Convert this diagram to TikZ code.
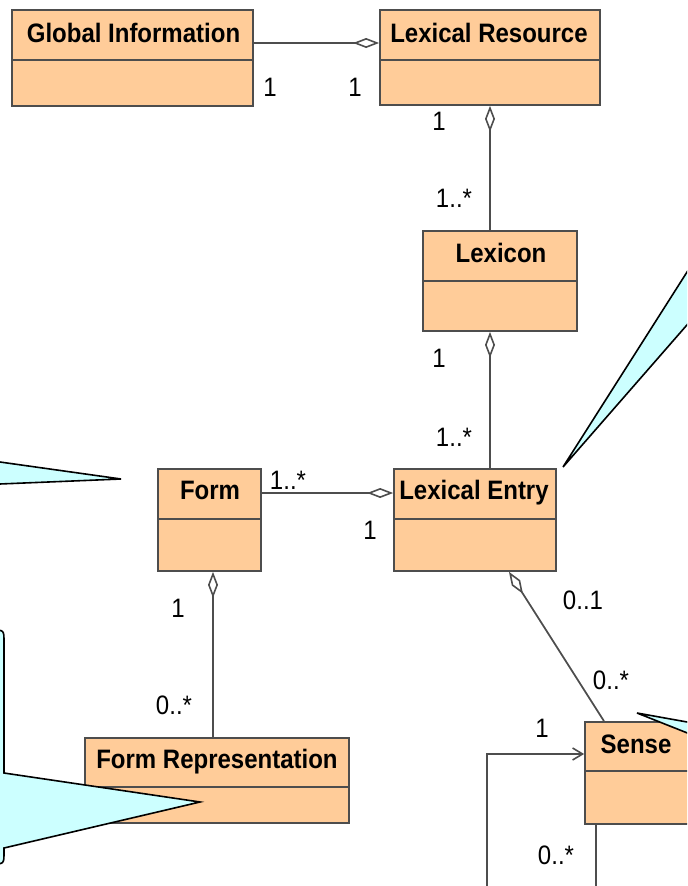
\documentclass[tikz,border=0pt]{standalone}
\usepackage{fontspec}
\setmainfont{Liberation Sans}[FakeStretch=0.9]
\usetikzlibrary{arrows.meta,fit}
\definecolor{classfill}{HTML}{FFCC99}
\definecolor{classline}{HTML}{4D4D4D}
\definecolor{notefill}{HTML}{CCFFFF}
\begin{document}
\begin{tikzpicture}[x=0.75pt,y=-0.75pt,
  cls/.style={draw=classline, fill=classfill, line width=1.3pt, inner sep=0pt},
  divider/.style={draw=classline, line width=1.3pt},
  title/.style={font=\bfseries\fontsize{20pt}{22pt}\selectfont, inner sep=0pt, anchor=base},
  mult/.style={font=\fontsize{20pt}{22pt}\selectfont, inner sep=0pt},
  conn/.style={draw=classline, line width=1.3pt},
  agg/.style={conn, {Diamond[fill=white,length=19.5pt,width=7.5pt,line width=1.2pt]}-},
  nav/.style={conn, -{Straight Barb[length=7.5pt,width=9pt,line width=1.2pt]}},
  note/.style={draw=black, fill=notefill, line width=1.2pt, line join=miter}
]
\useasboundingbox (0,0) rectangle (687,886);
\clip (0,0) rectangle (687,886);

% class boxes
\node[cls, fit={(12,10) (253,106)}] (gi) {};
\node[cls, fit={(380,10) (600,105)}] (lr) {};
\node[cls, fit={(423,231) (577,331)}] (lexicon) {};
\node[cls, fit={(394,469) (556,571)}] (lexent) {};
\node[cls, fit={(158,469) (261,571)}] (form) {};
\node[cls, fit={(85,738) (349,823)}] (formrep) {};
\node[cls, fit={(585,722) (689,824)}] (sense) {};

% compartment dividers
\draw[divider] (gi.west |- 0,60) -- (gi.east |- 0,60);
\draw[divider] (lr.west |- 0,60) -- (lr.east |- 0,60);
\draw[divider] (lexicon.west |- 0,281) -- (lexicon.east |- 0,281);
\draw[divider] (lexent.west |- 0,519) -- (lexent.east |- 0,519);
\draw[divider] (form.west |- 0,519) -- (form.east |- 0,519);
\draw[divider] (formrep.west |- 0,787) -- (formrep.east |- 0,787);
\draw[divider] (sense.west |- 0,771) -- (sense.east |- 0,771);

% class names
\node[title] (gi-name) at (133.5,42) {Global Information};
\node[title] (lr-name) at (489,42) {Lexical Resource};
\node[title] (lexicon-name) at (501,262) {Lexicon};
\node[title] (lexent-name) at (474,499) {Lexical Entry};
\node[title] (form-name) at (210,499) {Form};
\node[title] (formrep-name) at (217,768) {Form Representation};
\node[title] (sense-name) at (636,753) {Sense};

% aggregations
\draw[agg] (lr.west |- 0,43) -- (gi.east |- 0,43);
\draw[agg] (lr.south -| 490,0) -- (lexicon.north -| 490,0);
\draw[agg] (lexicon.south -| 490,0) -- (lexent.north -| 490,0);
\draw[agg] (lexent.west |- 0,493) -- (form.east |- 0,493);
\draw[agg] (form.south -| 213,0) -- (formrep.north -| 213,0);
\draw[agg] (lexent.south -| 509,0) -- (sense.north -| 604,0);

% reflexive association on Sense
\coordinate (loopR) at (596,900);
\coordinate (loopL) at (487,900);
\draw[nav] (sense.south -| loopR) -- (loopR) -- (loopL) |- (sense.west |- 0,754);

% multiplicities
\node[mult] (m-gi) at (270,87) {1};
\node[mult] (m-lr) at (355,87) {1};
\node[mult] (m-lr2) at (439,121) {1};
\node[mult] (m-lex) at (454,198) {1..*};
\node[mult] (m-lex2) at (439,358) {1};
\node[mult] (m-le) at (454,437) {1..*};
\node[mult] (m-form) at (288,480) {1..*};
\node[mult] (m-le2) at (370,530) {1};
\node[mult] (m-form2) at (178,608) {1};
\node[mult] (m-fr) at (174,705) {0..*};
\node[mult] (m-le3) at (583,600) {0..1};
\node[mult] (m-sense) at (611,680) {0..*};
\node[mult] (m-loop1) at (542,728) {1};
\node[mult] (m-loop2) at (556,855) {0..*};

% note callouts
\draw[note] (-10,460.6) -- (121,479) -- (-10,484.4) -- cycle;
\draw[note] (700,251.6) -- (563,467) -- (700,310) -- cycle;
\draw[note] (-30,630) -- (-8,630) .. controls (4,630) .. (4,642) -- (4,773)
  -- (200,802) -- (4,848) -- (4,852) .. controls (4,864) .. (-8,864) -- (-30,864) -- cycle;
\draw[note] (700,724.3) -- (637,713) -- (700,738) -- cycle;
\end{tikzpicture}
\end{document}
